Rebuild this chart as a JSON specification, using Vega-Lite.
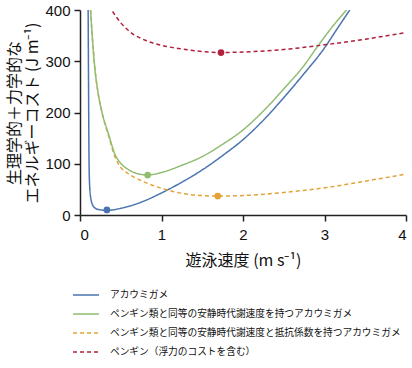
{
  "$schema": "https://vega.github.io/schema/vega-lite/v6.json",
  "width": 326,
  "height": 205,
  "autosize": {"type": "none"},
  "padding": {"left": 80, "top": 10, "right": 6, "bottom": 153},
  "background": "white",
  "config": {
    "view": {"stroke": null},
    "font": "Liberation Sans, Noto Sans CJK JP",
    "axis": {
      "domainColor": "#222222",
      "domainWidth": 1.5,
      "tickColor": "#222222",
      "tickWidth": 1.5,
      "tickSize": 6,
      "labelFont": "Liberation Sans",
      "labelFontSize": 15,
      "labelColor": "#111111",
      "titleFont": "Noto Sans CJK JP",
      "titleFontSize": 16,
      "titleFontWeight": "normal",
      "titleColor": "#111111",
      "grid": false
    }
  },
  "datasets": {
    "curves": [
      {"series": "アカウミガメ", "v": 0.10, "cost": 400},
      {"series": "アカウミガメ", "v": 0.105, "cost": 250},
      {"series": "アカウミガメ", "v": 0.11, "cost": 120},
      {"series": "アカウミガメ", "v": 0.115, "cost": 70},
      {"series": "アカウミガメ", "v": 0.13, "cost": 35},
      {"series": "アカウミガメ", "v": 0.16, "cost": 18},
      {"series": "アカウミガメ", "v": 0.2, "cost": 12},
      {"series": "アカウミガメ", "v": 0.25, "cost": 10},
      {"series": "アカウミガメ", "v": 0.33, "cost": 9},
      {"series": "アカウミガメ", "v": 0.5, "cost": 13},
      {"series": "アカウミガメ", "v": 0.75, "cost": 25},
      {"series": "アカウミガメ", "v": 1.0, "cost": 43},
      {"series": "アカウミガメ", "v": 1.25, "cost": 64},
      {"series": "アカウミガメ", "v": 1.5, "cost": 88},
      {"series": "アカウミガメ", "v": 1.75, "cost": 116},
      {"series": "アカウミガメ", "v": 2.0, "cost": 147},
      {"series": "アカウミガメ", "v": 2.25, "cost": 185},
      {"series": "アカウミガメ", "v": 2.5, "cost": 229},
      {"series": "アカウミガメ", "v": 2.75, "cost": 276},
      {"series": "アカウミガメ", "v": 3.0, "cost": 326},
      {"series": "アカウミガメ", "v": 3.15, "cost": 362},
      {"series": "アカウミガメ", "v": 3.31, "cost": 400},
      {"series": "ペンギン類と同等の安静時代謝速度と抵抗係数を持つアカウミガメ", "v": 0.13, "cost": 400},
      {"series": "ペンギン類と同等の安静時代謝速度と抵抗係数を持つアカウミガメ", "v": 0.15, "cost": 350},
      {"series": "ペンギン類と同等の安静時代謝速度と抵抗係数を持つアカウミガメ", "v": 0.18, "cost": 290},
      {"series": "ペンギン類と同等の安静時代謝速度と抵抗係数を持つアカウミガメ", "v": 0.22, "cost": 240},
      {"series": "ペンギン類と同等の安静時代謝速度と抵抗係数を持つアカウミガメ", "v": 0.27, "cost": 200},
      {"series": "ペンギン類と同等の安静時代謝速度と抵抗係数を持つアカウミガメ", "v": 0.35, "cost": 155},
      {"series": "ペンギン類と同等の安静時代謝速度と抵抗係数を持つアカウミガメ", "v": 0.43, "cost": 113},
      {"series": "ペンギン類と同等の安静時代謝速度と抵抗係数を持つアカウミガメ", "v": 0.5, "cost": 93},
      {"series": "ペンギン類と同等の安静時代謝速度と抵抗係数を持つアカウミガメ", "v": 0.6, "cost": 80},
      {"series": "ペンギン類と同等の安静時代謝速度と抵抗係数を持つアカウミガメ", "v": 0.78, "cost": 65},
      {"series": "ペンギン類と同等の安静時代謝速度と抵抗係数を持つアカウミガメ", "v": 1.0, "cost": 52},
      {"series": "ペンギン類と同等の安静時代謝速度と抵抗係数を持つアカウミガメ", "v": 1.14, "cost": 46},
      {"series": "ペンギン類と同等の安静時代謝速度と抵抗係数を持つアカウミガメ", "v": 1.3, "cost": 41},
      {"series": "ペンギン類と同等の安静時代謝速度と抵抗係数を持つアカウミガメ", "v": 1.54, "cost": 37.5},
      {"series": "ペンギン類と同等の安静時代謝速度と抵抗係数を持つアカウミガメ", "v": 1.7, "cost": 37},
      {"series": "ペンギン類と同等の安静時代謝速度と抵抗係数を持つアカウミガメ", "v": 2.0, "cost": 38},
      {"series": "ペンギン類と同等の安静時代謝速度と抵抗係数を持つアカウミガメ", "v": 2.5, "cost": 44},
      {"series": "ペンギン類と同等の安静時代謝速度と抵抗係数を持つアカウミガメ", "v": 3.0, "cost": 53},
      {"series": "ペンギン類と同等の安静時代謝速度と抵抗係数を持つアカウミガメ", "v": 3.5, "cost": 66},
      {"series": "ペンギン類と同等の安静時代謝速度と抵抗係数を持つアカウミガメ", "v": 4.0, "cost": 80},
      {"series": "ペンギン類と同等の安静時代謝速度を持つアカウミガメ", "v": 0.13, "cost": 400},
      {"series": "ペンギン類と同等の安静時代謝速度を持つアカウミガメ", "v": 0.15, "cost": 350},
      {"series": "ペンギン類と同等の安静時代謝速度を持つアカウミガメ", "v": 0.18, "cost": 290},
      {"series": "ペンギン類と同等の安静時代謝速度を持つアカウミガメ", "v": 0.22, "cost": 240},
      {"series": "ペンギン類と同等の安静時代謝速度を持つアカウミガメ", "v": 0.27, "cost": 200},
      {"series": "ペンギン類と同等の安静時代謝速度を持つアカウミガメ", "v": 0.35, "cost": 158},
      {"series": "ペンギン類と同等の安静時代謝速度を持つアカウミガメ", "v": 0.43, "cost": 118},
      {"series": "ペンギン類と同等の安静時代謝速度を持つアカウミガメ", "v": 0.5, "cost": 101},
      {"series": "ペンギン類と同等の安静時代謝速度を持つアカウミガメ", "v": 0.6, "cost": 88},
      {"series": "ペンギン類と同等の安静時代謝速度を持つアカウミガメ", "v": 0.7, "cost": 81},
      {"series": "ペンギン類と同等の安静時代謝速度を持つアカウミガメ", "v": 0.83, "cost": 78},
      {"series": "ペンギン類と同等の安静時代謝速度を持つアカウミガメ", "v": 1.0, "cost": 83},
      {"series": "ペンギン類と同等の安静時代謝速度を持つアカウミガメ", "v": 1.25, "cost": 97},
      {"series": "ペンギン類と同等の安静時代謝速度を持つアカウミガメ", "v": 1.5, "cost": 114},
      {"series": "ペンギン類と同等の安静時代謝速度を持つアカウミガメ", "v": 1.75, "cost": 138},
      {"series": "ペンギン類と同等の安静時代謝速度を持つアカウミガメ", "v": 2.0, "cost": 166},
      {"series": "ペンギン類と同等の安静時代謝速度を持つアカウミガメ", "v": 2.25, "cost": 203},
      {"series": "ペンギン類と同等の安静時代謝速度を持つアカウミガメ", "v": 2.5, "cost": 246},
      {"series": "ペンギン類と同等の安静時代謝速度を持つアカウミガメ", "v": 2.75, "cost": 292},
      {"series": "ペンギン類と同等の安静時代謝速度を持つアカウミガメ", "v": 2.92, "cost": 330},
      {"series": "ペンギン類と同等の安静時代謝速度を持つアカウミガメ", "v": 3.1, "cost": 368},
      {"series": "ペンギン類と同等の安静時代謝速度を持つアカウミガメ", "v": 3.27, "cost": 400},
      {"series": "ペンギン（浮力のコストを含む）", "v": 0.4, "cost": 397},
      {"series": "ペンギン（浮力のコストを含む）", "v": 0.5, "cost": 375},
      {"series": "ペンギン（浮力のコストを含む）", "v": 0.65, "cost": 353},
      {"series": "ペンギン（浮力のコストを含む）", "v": 0.8, "cost": 341},
      {"series": "ペンギン（浮力のコストを含む）", "v": 1.0, "cost": 331},
      {"series": "ペンギン（浮力のコストを含む）", "v": 1.25, "cost": 324},
      {"series": "ペンギン（浮力のコストを含む）", "v": 1.5, "cost": 319},
      {"series": "ペンギン（浮力のコストを含む）", "v": 1.73, "cost": 317},
      {"series": "ペンギン（浮力のコストを含む）", "v": 2.0, "cost": 318},
      {"series": "ペンギン（浮力のコストを含む）", "v": 2.5, "cost": 323},
      {"series": "ペンギン（浮力のコストを含む）", "v": 3.0, "cost": 332},
      {"series": "ペンギン（浮力のコストを含む）", "v": 3.5, "cost": 343},
      {"series": "ペンギン（浮力のコストを含む）", "v": 4.0, "cost": 356}
    ],
    "minima": [
      {"series": "アカウミガメ", "v": 0.33, "cost": 10},
      {"series": "ペンギン類と同等の安静時代謝速度を持つアカウミガメ", "v": 0.83, "cost": 78},
      {"series": "ペンギン類と同等の安静時代謝速度と抵抗係数を持つアカウミガメ", "v": 1.69, "cost": 37},
      {"series": "ペンギン（浮力のコストを含む）", "v": 1.73, "cost": 317}
    ]
  },
  "layer": [
    {
      "data": {"name": "curves"},
      "mark": {"type": "line", "strokeWidth": 1.5, "clip": true, "interpolate": "monotone"},
      "encoding": {
        "x": {
          "field": "v", "type": "quantitative",
          "scale": {"domain": [0, 4], "nice": false},
          "axis": {"values": [0, 1, 2, 3, 4], "format": "d", "title": "遊泳速度 (m s⁻¹)", "titlePadding": 10, "labelPadding": 6}
        },
        "y": {
          "field": "cost", "type": "quantitative",
          "scale": {"domain": [0, 400], "nice": false},
          "axis": {"values": [0, 100, 200, 300, 400], "format": "d", "title": ["生理学的＋力学的な", "エネルギーコスト (J m⁻¹)"], "titlePadding": 4, "titleLineHeight": 18, "labelPadding": 4}
        },
        "color": {
          "field": "series", "type": "nominal",
          "scale": {
            "domain": ["アカウミガメ", "ペンギン類と同等の安静時代謝速度を持つアカウミガメ", "ペンギン類と同等の安静時代謝速度と抵抗係数を持つアカウミガメ", "ペンギン（浮力のコストを含む）"],
            "range": ["#4a74b0", "#90bd72", "#e3a238", "#b2203c"]
          },
          "legend": {
            "title": null,
            "orient": "none",
            "legendX": -8,
            "legendY": 271,
            "direction": "vertical",
            "symbolType": "stroke",
            "symbolSize": 676,
            "symbolStrokeWidth": 1.5,
            "labelFont": "Noto Sans CJK JP",
            "labelFontSize": 9.7,
            "labelColor": "#111111",
            "labelOffset": 10,
            "labelLimit": 400,
            "rowPadding": 0
          }
        },
        "strokeDash": {
          "field": "series", "type": "nominal",
          "scale": {
            "domain": ["アカウミガメ", "ペンギン類と同等の安静時代謝速度を持つアカウミガメ", "ペンギン類と同等の安静時代謝速度と抵抗係数を持つアカウミガメ", "ペンギン（浮力のコストを含む）"],
            "range": [[1, 0], [1, 0], [4, 3], [4, 3]]
          },
          "legend": null
        }
      }
    },
    {
      "data": {"name": "minima"},
      "mark": {"type": "point", "filled": true, "opacity": 1, "size": 45},
      "encoding": {
        "x": {"field": "v", "type": "quantitative"},
        "y": {"field": "cost", "type": "quantitative"},
        "color": {"field": "series", "type": "nominal", "legend": null}
      }
    }
  ]
}
